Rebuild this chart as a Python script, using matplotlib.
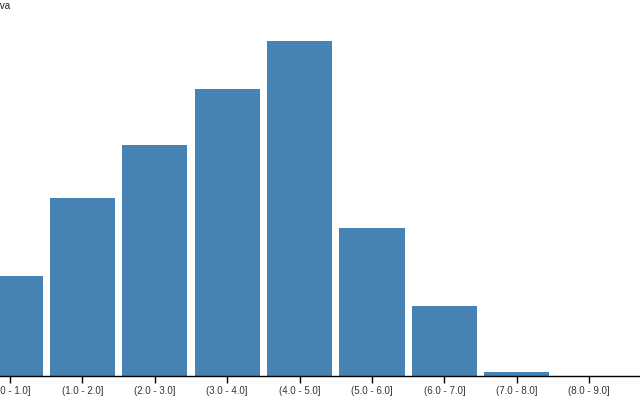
import matplotlib.pyplot as plt
import numpy as np

# dati -----------------------------------------------------------------
classes = ["(0.0 - 1.0]", "(1.0 - 2.0]", "(2.0 - 3.0]", "(3.0 - 4.0]", "(4.0 - 5.0]",
           "(5.0 - 6.0]", "(6.0 - 7.0]", "(7.0 - 8.0]", "(8.0 - 9.0]"]
freq = [0.0758, 0.135, 0.175, 0.218, 0.254, 0.112, 0.053, 0.003, 0.0]
y_label = "Frequência Relativa"

plt.rcParams['font.family'] = ['Liberation Sans', 'DejaVu Sans']

W, H = 640, 400
fig = plt.figure(figsize=(6.4, 4.0), dpi=100)

# assi (parzialmente fuori dalla figura, come nell'originale)
step = 72.4
c0 = 10.0
left_px = c0 - 0.6 * step
right_px = c0 + 8.75 * step
bottom_px = 376
top_px = 20
ax = fig.add_axes([left_px / W, 1 - bottom_px / H,
                   (right_px - left_px) / W, (bottom_px - top_px) / H])

x = np.arange(len(classes))
ax.bar(x, freq, width=0.9, color="#4682b4")
ax.set_xlim(-0.6, 8.75)
ax.set_ylim(0, 0.27)

ax.set_xticks(x)
ax.set_xticklabels(classes, fontsize=7, color="#333333")
ax.tick_params(axis="x", length=5, width=1, pad=2)
ax.set_yticks([])
for s in ["left", "top", "right"]:
    ax.spines[s].set_visible(False)
ax.spines["bottom"].set_linewidth(1)

fig.text(10 / W, 1 - 6 / H, y_label, ha="right", va="center", fontsize=7, color="#222222")

fig.savefig("out.png", dpi=100)
